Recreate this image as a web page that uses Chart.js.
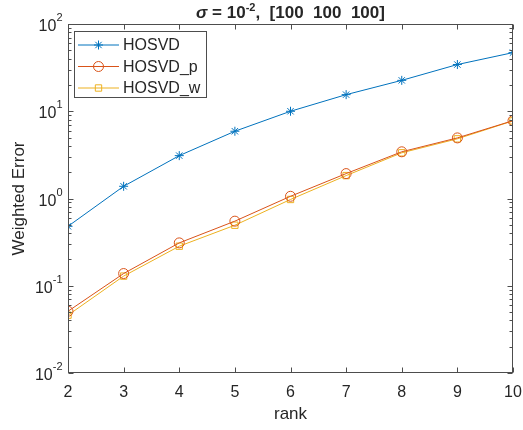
<!DOCTYPE html>
<html>
<head>
<meta charset="utf-8">
<script src="https://cdn.jsdelivr.net/npm/chart.js@4"></script>
<style>
  html, body { margin: 0; padding: 0; background: #fff; }
  #wrap { width: 523px; height: 430px; }
</style>
</head>
<body>
<div id="wrap"><canvas id="errChart" width="523" height="430"></canvas></div>
<script>
// values
const ranks = [2, 3, 4, 5, 6, 7, 8, 9, 10];
const hosvd = [0.48, 1.38, 3.1, 5.9, 10.0, 15.5, 22.6, 34.3, 47];
const hosvdP = [0.051, 0.138, 0.31, 0.55, 1.06, 1.93, 3.43, 4.95, 7.8];
const hosvdW = [0.046, 0.129, 0.284, 0.494, 0.975, 1.83, 3.34, 4.83, 7.76];
const seriesNames = ['HOSVD', 'HOSVD_p', 'HOSVD_w'];
const yDecades = [-2, -1, 0, 1, 2];

const FONT = "Arial, 'Liberation Sans', Helvetica, sans-serif";
const TXT = '#262626';
const AXC = '#4d4d4d';

function toPoints(vals) {
    return ranks.map((r, i) => ({ x: r, y: vals[i] }));
}

function drawText(ctx, str, x, y, size, opts = {}) {
    ctx.font = (opts.style || '') + ' ' + (opts.weight || 'normal') + ' ' + size + 'px ' + FONT;
    ctx.fillStyle = TXT;
    ctx.textAlign = opts.align || 'left';
    ctx.textBaseline = opts.baseline || 'alphabetic';
    ctx.fillText(str, x, y);
    return ctx.measureText(str).width;
}

// axes box, inward ticks, tick labels, legend and title in the MATLAB look
const matlabAxes = {
    id: 'matlabAxes',
    afterDraw(chart) {
        const { ctx, chartArea: a, scales } = chart;
        const xs = scales.x, ys = scales.y;
        const L = Math.round(a.left) + 0.5, R = Math.round(a.right) - 0.5;
        const T = Math.round(a.top) + 0.5, B = Math.round(a.bottom) - 0.5;
        ctx.save();

        ctx.strokeStyle = AXC;
        ctx.lineWidth = 1;
        ctx.strokeRect(L, T, R - L, B - T);

        ctx.beginPath();
        ranks.forEach(r => {
            const px = Math.round(xs.getPixelForValue(r)) + 0.5;
            ctx.moveTo(px, B); ctx.lineTo(px, B - 5);
            ctx.moveTo(px, T); ctx.lineTo(px, T + 5);
        });
        yDecades.forEach((d, k) => {
            const py = Math.round(ys.getPixelForValue(Math.pow(10, d))) + 0.5;
            ctx.moveTo(L, py); ctx.lineTo(L + 5, py);
            ctx.moveTo(R, py); ctx.lineTo(R - 5, py);
            if (k < yDecades.length - 1) {
                for (let m = 2; m <= 9; m++) {
                    const my = Math.round(ys.getPixelForValue(m * Math.pow(10, d))) + 0.5;
                    ctx.moveTo(L, my); ctx.lineTo(L + 3, my);
                    ctx.moveTo(R, my); ctx.lineTo(R - 3, my);
                }
            }
        });
        ctx.stroke();

        // x tick labels
        ranks.forEach(r => {
            drawText(ctx, String(r), xs.getPixelForValue(r), 397, 16, { align: 'center' });
        });

        // y tick labels 10^d
        yDecades.forEach(d => {
            const py = ys.getPixelForValue(Math.pow(10, d));
            ctx.font = '11px ' + FONT;
            const ew = ctx.measureText(String(d)).width;
            const right = L - 6;
            drawText(ctx, String(d), right - ew, py - 3, 11);
            drawText(ctx, '10', right - ew, py + 7, 16, { align: 'right' });
        });

        // axis titles
        drawText(ctx, 'rank', (a.left + a.right) / 2, 419, 17, { align: 'center' });
        ctx.save();
        ctx.translate(24, (a.top + a.bottom) / 2);
        ctx.rotate(-Math.PI / 2);
        drawText(ctx, 'Weighted Error', 0, 0, 17, { align: 'center' });
        ctx.restore();

        // legend
        const lx = 74.5, ly = 31.5, lw = 132, lh = 66;
        ctx.fillStyle = '#fff';
        ctx.fillRect(lx, ly, lw, lh);
        ctx.strokeStyle = AXC;
        ctx.lineWidth = 1;
        ctx.strokeRect(lx, ly, lw, lh);
        chart.data.datasets.forEach((ds, i) => {
            const y = 45 + i * 21.5;
            ctx.strokeStyle = ds.borderColor;
            ctx.fillStyle = 'rgba(0,0,0,0)';
            ctx.lineWidth = 1;
            ctx.beginPath();
            ctx.moveTo(78, y); ctx.lineTo(119, y);
            ctx.stroke();
            Chart.helpers.drawPoint(ctx, {
                pointStyle: ds.pointStyle, radius: ds.pointRadius,
                borderWidth: 1, rotation: 0
            }, 98.5, y);
            drawText(ctx, ds.label, 123, y + 1, 16, { baseline: 'middle' });
        });

        // title: sigma = 10^-2,  [100  100  100]
        const tParts = [
            ['σ', 17, 'italic', 0],
            [' = 10', 17, '', 0],
            ['-2', 11, '', -7],
            [',  [100  100  100]', 17, '', 0]
        ];
        let tw = 0;
        tParts.forEach(p => {
            ctx.font = p[2] + ' bold ' + p[1] + 'px ' + FONT;
            tw += ctx.measureText(p[0]).width;
        });
        let tx = (a.left + a.right) / 2 - tw / 2;
        tParts.forEach(p => {
            tx += drawText(ctx, p[0], tx, 18 + p[3], p[1], { style: p[2], weight: 'bold' });
        });

        ctx.restore();
    }
};

const ctx = document.getElementById('errChart').getContext('2d');
new Chart(ctx, {
    type: 'line',
    data: {
        datasets: [{
            label: seriesNames[0],
            data: toPoints(hosvd),
            borderColor: '#0072BD',
            pointStyle: 'star',
            pointRadius: 4.5
        }, {
            label: seriesNames[1],
            data: toPoints(hosvdP),
            borderColor: '#D95319',
            pointStyle: 'circle',
            pointRadius: 5
        }, {
            label: seriesNames[2],
            data: toPoints(hosvdW),
            borderColor: '#EDB120',
            pointStyle: 'rect',
            pointRadius: 4.5
        }].map(ds => Object.assign(ds, {
            borderWidth: 1,
            pointBorderColor: ds.borderColor,
            pointBackgroundColor: 'rgba(0,0,0,0)',
            pointBorderWidth: 1,
            tension: 0,
            fill: false
        }))
    },
    options: {
        responsive: false,
        animation: false,
        devicePixelRatio: 1,
        layout: { padding: { top: 24, right: 10, left: 0, bottom: 0 } },
        plugins: {
            legend: { display: false },
            tooltip: { enabled: false },
            title: { display: false }
        },
        scales: {
            x: {
                type: 'linear',
                min: 2,
                max: 10,
                grid: { display: false },
                border: { display: false },
                ticks: { display: false, stepSize: 1 },
                afterFit(scale) { scale.height = 57; }
            },
            y: {
                type: 'logarithmic',
                min: 0.01,
                max: 100,
                grid: { display: false },
                border: { display: false },
                ticks: { display: false },
                afterFit(scale) { scale.width = 68; }
            }
        }
    },
    plugins: [matlabAxes]
});
</script>
</body>
</html>
